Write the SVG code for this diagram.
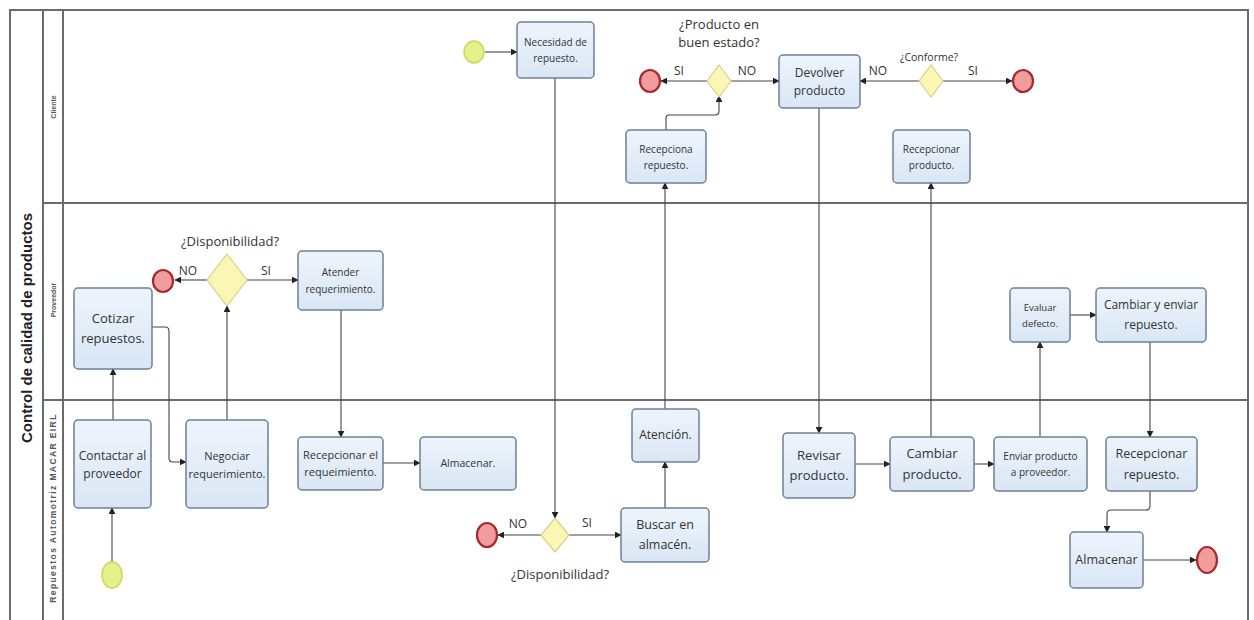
<svg xmlns="http://www.w3.org/2000/svg" width="1254" height="620" viewBox="0 0 1254 620">
  <defs>
    <linearGradient id="taskFill" x1="0" y1="0" x2="0" y2="1">
      <stop offset="0" stop-color="#eef4fb"/>
      <stop offset="1" stop-color="#d9e6f5"/>
    </linearGradient>
    <marker id="arrow" viewBox="0 0 10 10" refX="9" refY="5" markerWidth="7" markerHeight="7" orient="auto" markerUnits="userSpaceOnUse">
      <path d="M0,0 L10,5 L0,10 z" fill="#222"/>
    </marker>
    <style>
      .pool { fill: #fff; stroke: #6b6b6b; stroke-width: 2; }
      .lane { stroke: #6b6b6b; stroke-width: 2; fill: none; }
      .task rect { fill: url(#taskFill); stroke: #6d8096; stroke-width: 1.5; }
      .task text, .lbl { font-family: "Open Sans", "Noto Sans", sans-serif; fill: #333; text-anchor: middle; }
      .gw polygon { fill: #fbf6b4; stroke: #d8d08c; stroke-width: 1.2; }
      .start ellipse { fill: #e4f08a; stroke: #c9d865; stroke-width: 1.5; }
      .end ellipse { fill: #ef9d9d; stroke: #a8282c; stroke-width: 2.2; }
      .flow { fill: none; stroke: #444; stroke-width: 1.1; marker-end: url(#arrow); }
      .lanetxt { font-family: "Liberation Sans", Arial, sans-serif; font-weight: bold; fill: #555; text-anchor: middle; }
    </style>
  </defs>

  <!-- pool and lanes -->
  <g id="pool">
    <rect class="pool" x="10" y="10" width="1238" height="620"/>
    <line class="lane" x1="43" y1="10" x2="43" y2="620"/>
    <line class="lane" x1="63" y1="10" x2="63" y2="620"/>
    <line class="lane" x1="43" y1="203" x2="1248" y2="203"/>
    <line class="lane" x1="43" y1="400" x2="1248" y2="400"/>
    <text transform="translate(32,328) rotate(-90)" font-family="Liberation Sans, Arial, sans-serif" font-weight="bold" font-size="15" fill="#222" text-anchor="middle">Control de calidad de productos</text>
    <text class="lanetxt" transform="translate(56,107) rotate(-90)" font-size="7">Cliente</text>
    <text class="lanetxt" transform="translate(56,300) rotate(-90)" font-size="7">Proveedor</text>
    <text class="lanetxt" transform="translate(56,508) rotate(-90)" font-size="8.5" letter-spacing="1.4">Repuestos Automotriz MACAR EIRL</text>
  </g>

  <!-- connectors -->
  <g id="connectors">
    <!-- Cliente -->
    <line class="flow" x1="485" y1="52" x2="517" y2="52"/>
    <line class="flow" x1="707" y1="81" x2="661" y2="81"/>
    <line class="flow" x1="731" y1="81" x2="779" y2="81"/>
    <path class="flow" d="M666,130 V118 Q666,115 669,115 H715 Q719,115 719,111 V96"/>
    <line class="flow" x1="919" y1="81" x2="860" y2="81"/>
    <line class="flow" x1="943" y1="81" x2="1012" y2="81"/>
    <!-- Proveedor -->
    <line class="flow" x1="207" y1="280" x2="175" y2="280"/>
    <line class="flow" x1="247" y1="280" x2="298" y2="280"/>
    <path class="flow" d="M152,327 H165 Q169,327 169,331 V458 Q169,462 173,462 H186"/>
    <line class="flow" x1="1070" y1="315" x2="1096" y2="315"/>
    <!-- MACAR -->
    <line class="flow" x1="112" y1="562" x2="112" y2="508"/>
    <line class="flow" x1="113" y1="420" x2="113" y2="369"/>
    <line class="flow" x1="227" y1="420" x2="227" y2="306"/>
    <line class="flow" x1="341" y1="310" x2="341" y2="437"/>
    <line class="flow" x1="383" y1="463" x2="420" y2="463"/>
    <line class="flow" x1="555" y1="78" x2="555" y2="518"/>
    <line class="flow" x1="541" y1="535" x2="498" y2="535"/>
    <line class="flow" x1="569" y1="535" x2="621" y2="535"/>
    <line class="flow" x1="665" y1="508" x2="665" y2="462"/>
    <line class="flow" x1="665" y1="409" x2="665" y2="183"/>
    <line class="flow" x1="819" y1="108" x2="819" y2="433"/>
    <line class="flow" x1="855" y1="464" x2="890" y2="464"/>
    <line class="flow" x1="931" y1="437" x2="931" y2="183"/>
    <line class="flow" x1="974" y1="464" x2="994" y2="464"/>
    <line class="flow" x1="1040" y1="437" x2="1040" y2="342"/>
    <line class="flow" x1="1150" y1="342" x2="1150" y2="437"/>
    <path class="flow" d="M1150,491 V506 Q1150,510 1146,510 H1111 Q1107,510 1107,514 V532"/>
    <line class="flow" x1="1143" y1="560" x2="1196" y2="560"/>
  </g>

  <!-- Cliente lane -->
  <g id="start-cliente" class="start"><ellipse cx="474" cy="52" rx="10" ry="11"/></g>
  <g id="t-necesidad" class="task">
    <rect x="517" y="22" width="77" height="56" rx="4"/>
    <text font-size="10"><tspan x="555.5" y="46">Necesidad de</tspan><tspan x="555.5" y="62">repuesto.</tspan></text>
  </g>
  <g id="gw-buen-estado" class="gw">
    <polygon points="719,65 731,81 719,97 707,81"/>
    <text class="lbl" font-size="13"><tspan x="719" y="29">¿Producto en</tspan><tspan x="719" y="47">buen estado?</tspan></text>
    <text class="lbl" font-size="12" x="679" y="75">SI</text>
    <text class="lbl" font-size="12" x="747" y="75">NO</text>
  </g>
  <g id="end-buen-estado" class="end"><ellipse cx="650" cy="81" rx="10" ry="11"/></g>
  <g id="t-devolver" class="task">
    <rect x="779" y="55" width="81" height="53" rx="4"/>
    <text font-size="12"><tspan x="819.5" y="77">Devolver</tspan><tspan x="819.5" y="95">producto</tspan></text>
  </g>
  <g id="t-recepciona-repuesto" class="task">
    <rect x="626" y="130" width="80" height="53" rx="4"/>
    <text font-size="10"><tspan x="666" y="153">Recepciona</tspan><tspan x="666" y="169">repuesto.</tspan></text>
  </g>
  <g id="gw-conforme" class="gw">
    <polygon points="931,65 943,81 931,97 919,81"/>
    <text class="lbl" font-size="10.5" x="929" y="61">¿Conforme?</text>
    <text class="lbl" font-size="12" x="878" y="75">NO</text>
    <text class="lbl" font-size="12" x="973" y="75">SI</text>
  </g>
  <g id="end-conforme" class="end"><ellipse cx="1023" cy="81" rx="10" ry="11"/></g>
  <g id="t-recepcionar-producto" class="task">
    <rect x="893" y="130" width="77" height="53" rx="4"/>
    <text font-size="10"><tspan x="931.5" y="153">Recepcionar</tspan><tspan x="931.5" y="169">producto.</tspan></text>
  </g>

  <!-- Proveedor lane -->
  <g id="gw-disp-proveedor" class="gw">
    <polygon points="227,254 247,280 227,306 207,280"/>
    <text class="lbl" font-size="13" x="230" y="246">¿Disponibilidad?</text>
    <text class="lbl" font-size="12" x="188" y="275">NO</text>
    <text class="lbl" font-size="12" x="266" y="275">SI</text>
  </g>
  <g id="end-proveedor" class="end"><ellipse cx="163" cy="281" rx="10" ry="11"/></g>
  <g id="t-atender" class="task">
    <rect x="298" y="251" width="85" height="59" rx="4"/>
    <text font-size="10"><tspan x="340.5" y="276">Atender</tspan><tspan x="340.5" y="293">requerimiento.</tspan></text>
  </g>
  <g id="t-cotizar" class="task">
    <rect x="74" y="288" width="78" height="81" rx="4"/>
    <text font-size="13"><tspan x="113" y="323">Cotizar</tspan><tspan x="113" y="343">repuestos.</tspan></text>
  </g>
  <g id="t-evaluar" class="task">
    <rect x="1010" y="288" width="60" height="54" rx="4"/>
    <text font-size="9.5"><tspan x="1040" y="311">Evaluar</tspan><tspan x="1040" y="327">defecto.</tspan></text>
  </g>
  <g id="t-cambiar-enviar" class="task">
    <rect x="1096" y="288" width="110" height="54" rx="4"/>
    <text font-size="12"><tspan x="1151" y="309">Cambiar y enviar</tspan><tspan x="1151" y="329">repuesto.</tspan></text>
  </g>

  <!-- MACAR lane -->
  <g id="start-macar" class="start"><ellipse cx="112" cy="575" rx="10" ry="13"/></g>
  <g id="t-contactar" class="task">
    <rect x="74" y="420" width="77" height="88" rx="4"/>
    <text font-size="12"><tspan x="112.5" y="460">Contactar al</tspan><tspan x="112.5" y="478">proveedor</tspan></text>
  </g>
  <g id="t-negociar" class="task">
    <rect x="186" y="420" width="82" height="88" rx="4"/>
    <text font-size="11"><tspan x="227" y="460">Negociar</tspan><tspan x="227" y="478">requerimiento.</tspan></text>
  </g>
  <g id="t-recepcionar-req" class="task">
    <rect x="298" y="437" width="85" height="53" rx="4"/>
    <text font-size="11"><tspan x="340.5" y="459">Recepcionar el</tspan><tspan x="340.5" y="476">requeimiento.</tspan></text>
  </g>
  <g id="t-almacenar-1" class="task">
    <rect x="420" y="437" width="96" height="53" rx="4"/>
    <text font-size="10.5" x="468" y="467">Almacenar.</text>
  </g>
  <g id="gw-disp-macar" class="gw">
    <polygon points="555,518 569,535 555,552 541,535"/>
    <text class="lbl" font-size="13" x="560" y="579">¿Disponibilidad?</text>
    <text class="lbl" font-size="12" x="518" y="528">NO</text>
    <text class="lbl" font-size="12" x="587" y="527">SI</text>
  </g>
  <g id="end-macar-disp" class="end"><ellipse cx="487" cy="535" rx="10" ry="12"/></g>
  <g id="t-buscar" class="task">
    <rect x="621" y="508" width="88" height="54" rx="4"/>
    <text font-size="12.5"><tspan x="665" y="529">Buscar en</tspan><tspan x="665" y="549">almacén.</tspan></text>
  </g>
  <g id="t-atencion" class="task">
    <rect x="632" y="409" width="67" height="53" rx="4"/>
    <text font-size="12" x="665.5" y="439">Atención.</text>
  </g>
  <g id="t-revisar" class="task">
    <rect x="783" y="433" width="72" height="65" rx="4"/>
    <text font-size="13"><tspan x="819" y="460">Revisar</tspan><tspan x="819" y="480">producto.</tspan></text>
  </g>
  <g id="t-cambiar-producto" class="task">
    <rect x="890" y="437" width="84" height="54" rx="4"/>
    <text font-size="13"><tspan x="932" y="458">Cambiar</tspan><tspan x="932" y="479">producto.</tspan></text>
  </g>
  <g id="t-enviar" class="task">
    <rect x="994" y="437" width="93" height="54" rx="4"/>
    <text font-size="10"><tspan x="1040.5" y="460">Enviar producto</tspan><tspan x="1040.5" y="476">a proveedor.</tspan></text>
  </g>
  <g id="t-recepcionar-repuesto" class="task">
    <rect x="1106" y="437" width="91" height="54" rx="4"/>
    <text font-size="12.5"><tspan x="1151.5" y="458">Recepcionar</tspan><tspan x="1151.5" y="479">repuesto.</tspan></text>
  </g>
  <g id="t-almacenar-2" class="task">
    <rect x="1070" y="532" width="73" height="56" rx="4"/>
    <text font-size="12.5" x="1106.5" y="564">Almacenar</text>
  </g>
  <g id="end-final" class="end"><ellipse cx="1207" cy="560" rx="10" ry="13"/></g>
</svg>
